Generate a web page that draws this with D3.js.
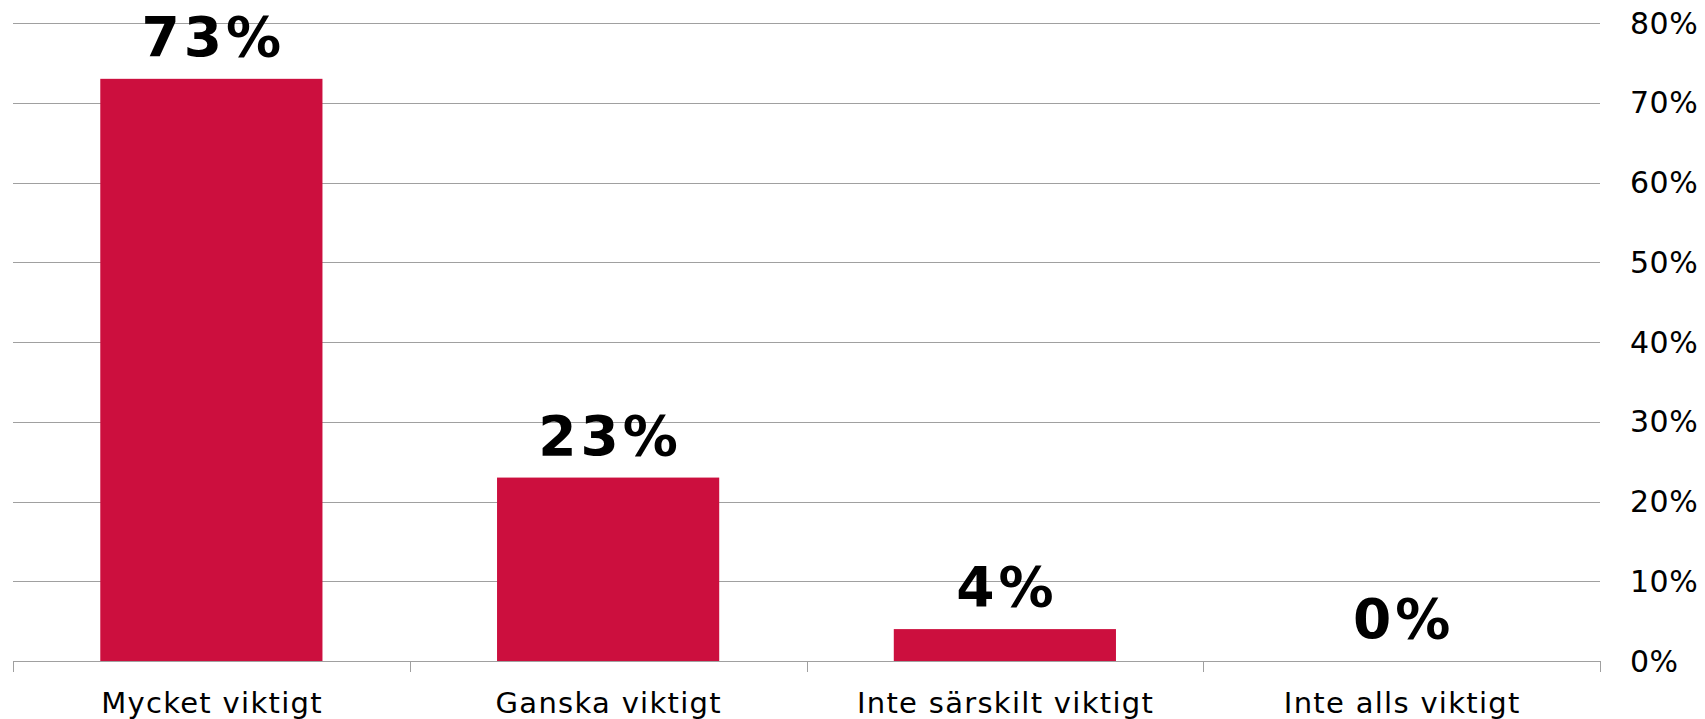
<!DOCTYPE html>
<html>
<head>
<meta charset="utf-8">
<script src="https://cdn.jsdelivr.net/npm/d3@7"></script>
<style>
  html, body { margin: 0; padding: 0; background: #fff; }
  svg { display: block; }
  text { font-family: "DejaVu Sans", Verdana, sans-serif; }
</style>
</head>
<body>
<svg id="chart" width="1705" height="719"></svg>
<script>
const categories = ["Mycket viktigt", "Ganska viktigt", "Inte särskilt viktigt", "Inte alls viktigt"];
const values = [73, 23, 4, 0];
const yTicks = [0, 10, 20, 30, 40, 50, 60, 70, 80];
const tickLabels = ["0%", "10%", "20%", "30%", "40%", "50%", "60%", "70%", "80%"];
const valueLabels = ["73%", "23%", "4%", "0%"];

(function () {
const svg = d3.select("#chart");
const mLeft = 13, mRight = 1600, mTop = 23, mBottom = 661;

const x = d3.scaleBand().domain(categories).range([mLeft, mRight]).padding(0);
const y = d3.scaleLinear().domain([0, 80]).range([mBottom, mTop]);
const barFrac = 0.56;
const barW = x.bandwidth() * barFrac;

// gridlines
svg.append("g").selectAll("line").data(yTicks.filter(d => d > 0)).join("line")
  .attr("x1", mLeft).attr("x2", mRight)
  .attr("y1", d => Math.round(y(d)) + 0.5).attr("y2", d => Math.round(y(d)) + 0.5)
  .attr("stroke", "#a0a0a0").attr("stroke-width", 1);

// bars
svg.append("g").selectAll("rect").data(values).join("rect")
  .attr("x", (d, i) => x(categories[i]) + (x.bandwidth() - barW) / 2)
  .attr("width", barW)
  .attr("y", d => y(d))
  .attr("height", d => mBottom - y(d))
  .attr("fill", "#cc0f3e");

// x axis line + ticks
svg.append("line")
  .attr("x1", mLeft).attr("x2", mRight)
  .attr("y1", mBottom + 0.5).attr("y2", mBottom + 0.5)
  .attr("stroke", "#a0a0a0").attr("stroke-width", 1);
const tickXs = categories.map(c => x(c)).concat([mRight]);
svg.append("g").selectAll("line").data(tickXs).join("line")
  .attr("x1", d => Math.round(d) + 0.5).attr("x2", d => Math.round(d) + 0.5)
  .attr("y1", mBottom).attr("y2", mBottom + 11)
  .attr("stroke", "#a0a0a0").attr("stroke-width", 1);

// category labels
svg.append("g").selectAll("text").data(categories).join("text")
  .attr("x", d => x(d) + x.bandwidth() / 2 + 0.65)
  .attr("y", 713)
  .attr("text-anchor", "middle")
  .attr("font-size", 29)
  .attr("letter-spacing", 1.3)
  .attr("fill", "#000")
  .text(d => d);

// y tick labels (right side)
svg.append("g").selectAll("text").data(yTicks).join("text")
  .attr("x", 1630)
  .attr("y", d => y(d) + 10.5)
  .attr("font-size", 30)
  .attr("letter-spacing", 0.5)
  .attr("fill", "#000")
  .text((d, i) => tickLabels[i]);

// value labels
const ls = 4;
svg.append("g").selectAll("text").data(values).join("text")
  .attr("x", (d, i) => x(categories[i]) + x.bandwidth() / 2 + ls / 2)
  .attr("y", d => y(d) - 23)
  .attr("text-anchor", "middle")
  .attr("font-size", 55)
  .attr("font-weight", "bold")
  .attr("letter-spacing", ls)
  .attr("fill", "#000")
  .text((d, i) => valueLabels[i]);
})();
</script>
</body>
</html>
